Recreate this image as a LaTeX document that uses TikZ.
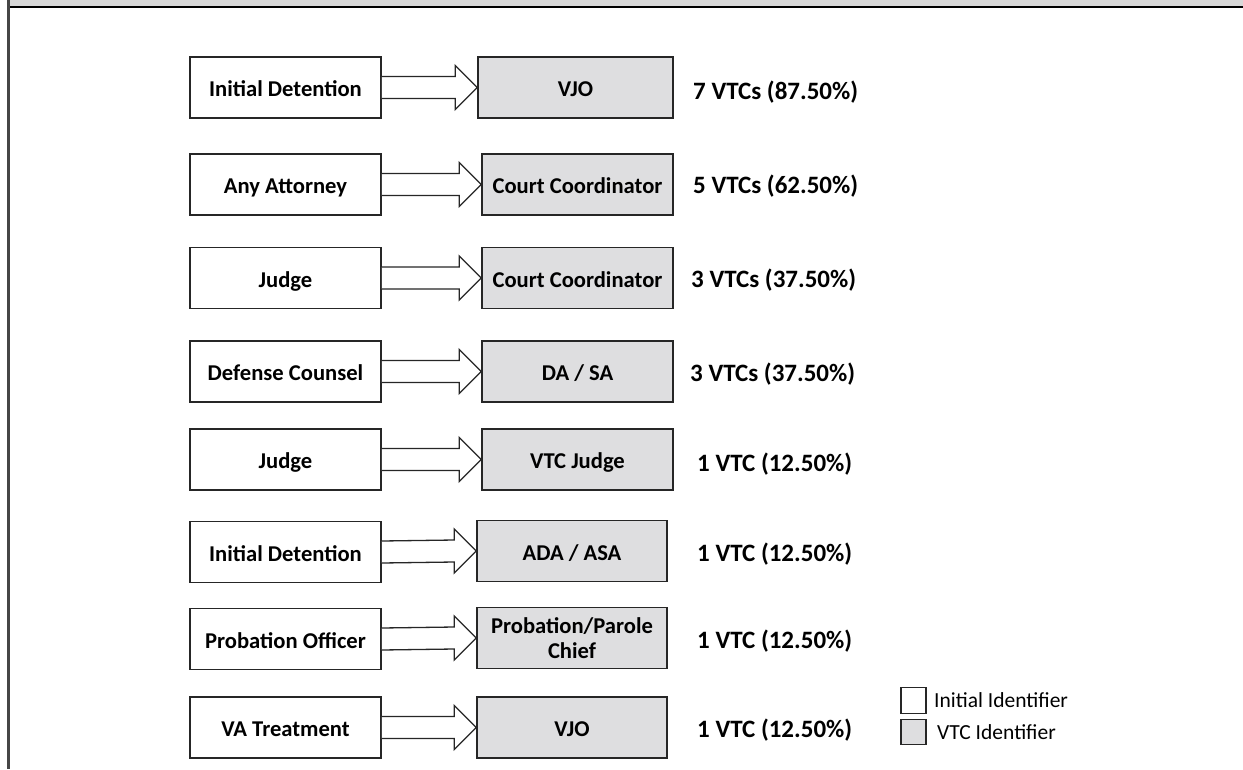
\documentclass[tikz,border=0pt]{standalone}
\usepackage{fontspec}
\setmainfont{Carlito}
\usetikzlibrary{calc}
\definecolor{boxgray}{RGB}{222,222,224}
\definecolor{bandgray}{RGB}{216,216,216}
\definecolor{framegray}{RGB}{70,70,70}
\tikzset{
  initbox/.style={draw=black!85, line width=1.6pt, fill=white, minimum width=191pt, minimum height=61pt, inner sep=0pt, text height=18.6pt, text depth=0pt, font=\fontsize{22.6}{25}\selectfont\bfseries},
  vtcbox/.style={draw=black!85, line width=1.6pt, fill=boxgray, minimum height=61pt, inner sep=0pt, text height=18.6pt, text depth=0pt, align=center, font=\fontsize{22.6}{25}\selectfont\bfseries},
  pct/.style={anchor=west, inner sep=0pt, font=\fontsize{25}{27}\selectfont\bfseries},
  barrow/.style={draw=black!85, line width=1.3pt, fill=white, line join=miter},
  legbox/.style={draw=black!85, line width=1.4pt, minimum width=25pt, minimum height=25.5pt, inner sep=0pt},
  legtext/.style={anchor=west, inner sep=0pt, font=\fontsize{21.5}{23}\selectfont}
}
\newcommand\blockarr[2]{%
  \draw[barrow] ($(#1.east)+(0,11)$) -- ($(#2.west)+(-22,11)$) -- ($(#2.west)+(-22,22)$) -- (#2.west)
    -- ($(#2.west)+(-22,-22)$) -- ($(#2.west)+(-22,-11)$) -- ($(#1.east)+(0,-11)$);}
\begin{document}
\begin{tikzpicture}[x=1pt,y=-1pt]
\useasboundingbox (0,0) rectangle (1243,769);
% frame
\fill[bandgray] (9,0) rectangle (1243,6.5);
\draw[black, line width=2pt] (8,7) -- (1243,7);
\draw[framegray, line width=2.5pt] (8.5,0) -- (8.5,769);
% row 1
\node[initbox] (L1) at (285.5,87.5) {Initial Detention};
\node[vtcbox, minimum width=195pt] (R1) at (575.5,87.5) {VJO};
\node[pct] (P1) at (693,92) {7 VTCs (87.50\%)};
\blockarr{L1}{R1}
% row 2
\node[initbox] (L2) at (285.5,184.5) {Any Attorney};
\node[vtcbox, minimum width=191pt] (R2) at (577.5,184.5) {Court Coordinator};
\node[pct] (P2) at (693,186) {5 VTCs (62.50\%)};
\blockarr{L2}{R2}
% row 3
\node[initbox] (L3) at (285.5,278) {Judge};
\node[vtcbox, minimum width=191pt] (R3) at (577.5,278) {Court Coordinator};
\node[pct] (P3) at (691,280) {3 VTCs (37.50\%)};
\blockarr{L3}{R3}
% row 4
\node[initbox] (L4) at (285.5,371.5) {Defense Counsel};
\node[vtcbox, minimum width=191pt] (R4) at (577.5,371.5) {DA / SA};
\node[pct] (P4) at (690,374.5) {3 VTCs (37.50\%)};
\blockarr{L4}{R4}
% row 5
\node[initbox] (L5) at (285.5,459.5) {Judge};
\node[vtcbox, minimum width=191pt] (R5) at (577.5,459.5) {VTC Judge};
\node[pct] (P5) at (697,464) {1 VTC (12.50\%)};
\blockarr{L5}{R5}
% row 6
\node[initbox] (L6) at (285.5,552) {Initial Detention};
\node[vtcbox, minimum width=190pt] (R6) at (572,551) {ADA / ASA};
\node[pct] (P6) at (697,554) {1 VTC (12.50\%)};
\blockarr{L6}{R6}
% row 7
\node[initbox] (L7) at (285.5,639) {Probation Officer};
\node[vtcbox, minimum width=190pt, text height=, text depth=] (R7) at (572,638) {Probation/Parole\\Chief};
\node[pct] (P7) at (697,641) {1 VTC (12.50\%)};
\blockarr{L7}{R7}
% row 8
\node[initbox] (L8) at (285.5,727.5) {VA Treatment};
\node[vtcbox, minimum width=190pt] (R8) at (572,727.5) {VJO};
\node[pct] (P8) at (697,730) {1 VTC (12.50\%)};
\blockarr{L8}{R8}
% legend
\node[legbox, fill=white] (G1) at (913.5,700.5) {};
\node[legbox, fill=boxgray] (G2) at (913.5,732) {};
\node[legtext] (T1) at (934,700.5) {Initial Identifier};
\node[legtext] (T2) at (937,732) {VTC Identifier};
\end{tikzpicture}
\end{document}
